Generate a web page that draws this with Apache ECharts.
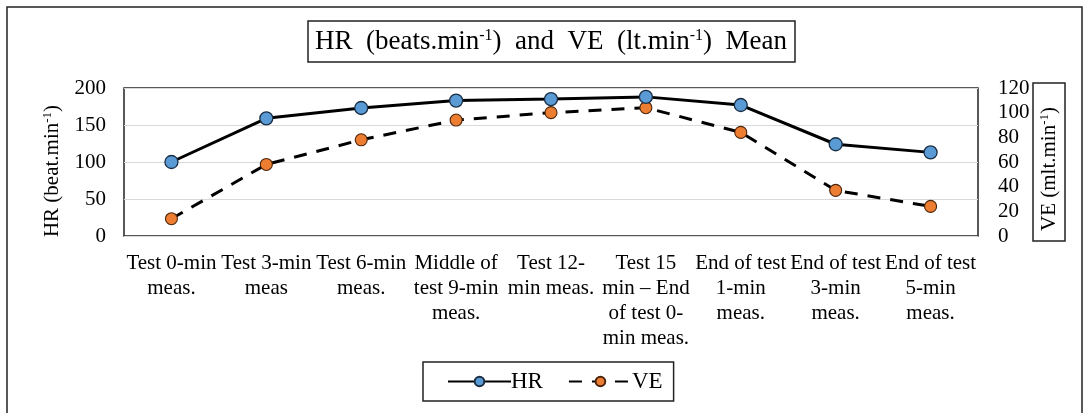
<!DOCTYPE html>
<html>
<head>
<meta charset="utf-8">
<script src="https://cdn.jsdelivr.net/npm/echarts@6/dist/echarts.min.js"></script>
<style>
  html, body { margin: 0; padding: 0; background: #fff; }
  #chart { width: 1084px; height: 413px; }
</style>
</head>
<body>
<div id="chart"></div>
<script>
  var categories = [
    'Test 0-min\nmeas.',
    'Test 3-min\nmeas',
    'Test 6-min\nmeas.',
    'Middle of\ntest 9-min\nmeas.',
    'Test 12-\nmin meas.',
    'Test 15\nmin \u2013 End\nof test 0-\nmin meas.',
    'End of test\n1-min\nmeas.',
    'End of test\n3-min\nmeas.',
    'End of test\n5-min\nmeas.'
  ];
  var hrValues = [100, 159, 173, 183, 185, 188, 177, 124, 113];
  var veValues = [14, 58, 78, 94, 100, 104, 84, 37, 24];
  var hrTicks = [0, 50, 100, 150, 200];
  var veTicks = [0, 20, 40, 60, 80, 100, 120];

  var font = '"Liberation Serif", "DejaVu Serif", serif';
  var myChart = echarts.init(document.getElementById('chart'));

  var supRich = function (size, sub) {
    return {
      a: { fontFamily: font, fontSize: size, fontWeight: 'normal', color: '#000' },
      s: { fontFamily: font, fontSize: sub, fontWeight: 'normal', color: '#000', verticalAlign: 'top', padding: [0, 0, Math.round(size * 0.45), 0] }
    };
  };

  var options = {
    backgroundColor: '#fff',
    animation: false,
    textStyle: { fontFamily: font, color: '#000' },
    graphic: [{
      type: 'rect',
      shape: { x: 7, y: 7, width: 1075, height: 420 },
      style: { fill: 'none', stroke: '#222', lineWidth: 1.5 }
    }],
    title: {
      text: '{a|HR  (beats.min}{s|-1}{a|)  and  VE  (lt.min}{s|-1}{a|)  Mean}',
      left: 308,
      top: 21,
      padding: [7, 8, 7, 7],
      borderColor: '#222',
      borderWidth: 1.5,
      textStyle: { fontWeight: 'normal', rich: supRich(27, 16) }
    },
    legend: {
      left: 423,
      top: 362,
      padding: [8, 11, 8, 24],
      borderColor: '#222',
      borderWidth: 1.5,
      itemWidth: 63,
      itemHeight: 12,
      itemGap: 25,
      textStyle: { fontFamily: font, fontSize: 23, color: '#000', padding: [0, 0, 0, -5] },
      data: ['HR', 'VE']
    },
    grid: {
      left: 124, right: 106, top: 88, bottom: 177,
      show: true, borderColor: '#222', borderWidth: 1.5
    },
    xAxis: {
      type: 'category',
      data: categories,
      axisLine: { show: false },
      axisTick: { show: false },
      axisLabel: {
        interval: 0,
        margin: 15,
        fontFamily: font,
        fontSize: 21,
        lineHeight: 25,
        color: '#000'
      }
    },
    yAxis: [{
      type: 'value',
      min: hrTicks[0],
      max: hrTicks[hrTicks.length - 1],
      interval: 50,
      name: '{a|HR (beat.min}{s|-1}{a|)}',
      nameLocation: 'middle',
      nameRotate: 90,
      nameGap: 61,
      nameMoveOverlap: false,
      nameTextStyle: { padding: [0, 18, 0, 0], rich: supRich(21, 13) },
      axisLine: { show: false },
      axisTick: { show: false },
      axisLabel: { fontFamily: font, fontSize: 21, color: '#000', margin: 18 },
      splitLine: { lineStyle: { color: '#d9d9d9', width: 1 } }
    }, {
      type: 'value',
      min: veTicks[0],
      max: veTicks[veTicks.length - 1],
      interval: 20,
      name: '{a|VE (mlt.min}{s|-1}{a|)}',
      nameLocation: 'middle',
      nameRotate: 90,
      nameGap: 55,
      nameMoveOverlap: false,
      nameTextStyle: {
        borderColor: '#222',
        borderWidth: 1.5,
        padding: [5, 24, 5, 10],
        rich: supRich(21, 13)
      },
      axisLine: { show: false },
      axisTick: { show: false },
      axisLabel: { fontFamily: font, fontSize: 21, color: '#000', margin: 20 },
      splitLine: { show: false }
    }],
    series: [{
      name: 'HR',
      type: 'line',
      yAxisIndex: 0,
      data: hrValues,
      symbol: 'circle',
      symbolSize: 13,
      lineStyle: { color: '#000', width: 3 },
      itemStyle: { color: '#5b9bd5', borderColor: '#1a2e44', borderWidth: 1.3 },
      z: 3
    }, {
      name: 'VE',
      type: 'line',
      yAxisIndex: 1,
      data: veValues,
      symbol: 'circle',
      symbolSize: 12,
      lineStyle: { color: '#000', width: 3, type: [13, 10] },
      itemStyle: { color: '#ed7d31', borderColor: '#4a250c', borderWidth: 1.1 },
      z: 2
    }]
  };
  myChart.setOption(options);
</script>
</body>
</html>
